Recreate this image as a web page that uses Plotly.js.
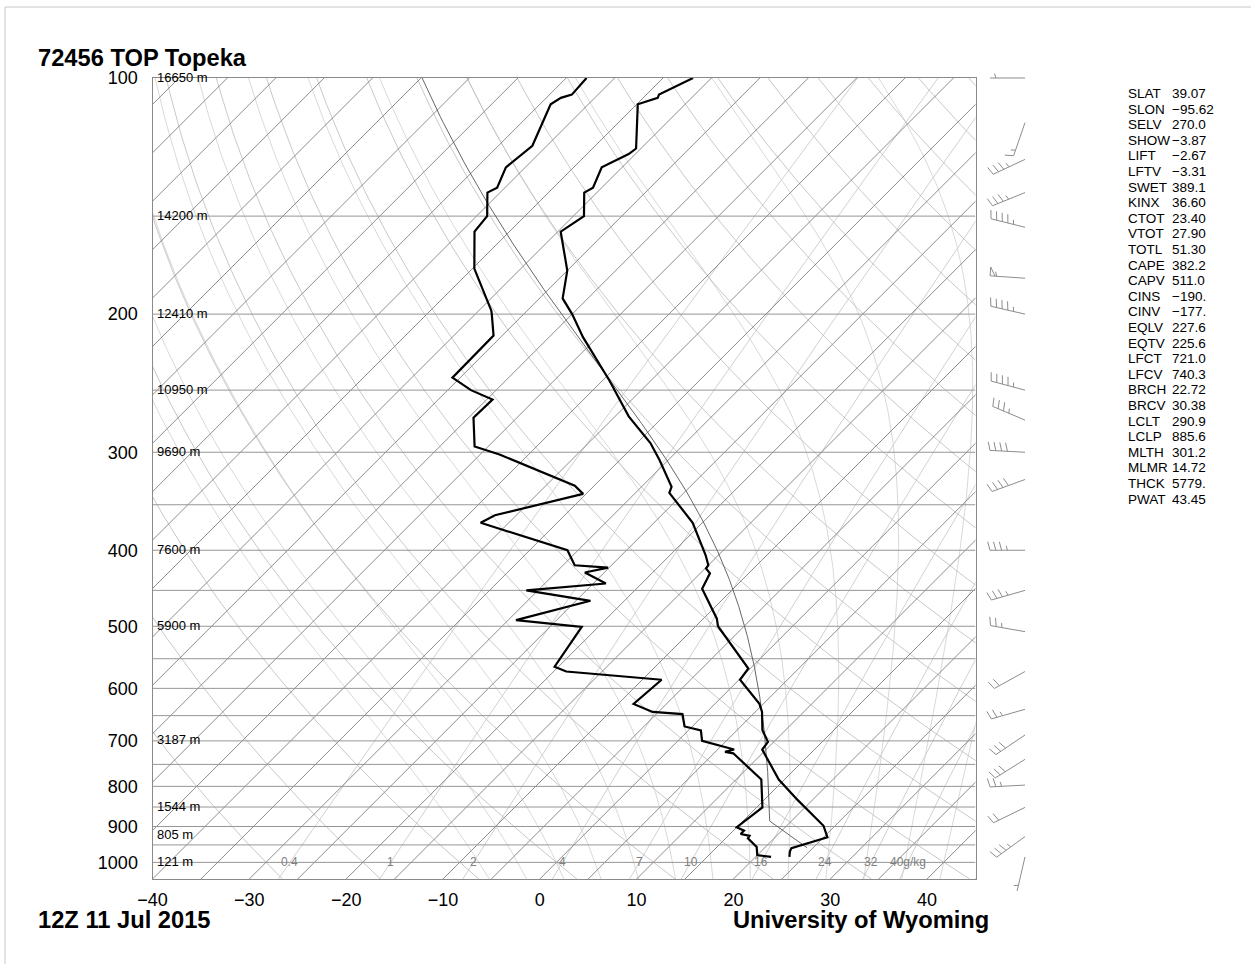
<!DOCTYPE html>
<html>
<head>
<meta charset="utf-8">
<script src="https://cdn.plot.ly/plotly-3.0.1.min.js"></script>
<style>html,body{margin:0;padding:0;background:#fff}</style>
</head>
<body>
<div id="chart" style="width:1251px;height:964px"></div>
<script>
// Skew-T log-p sounding: 72456 TOP Topeka, 12Z 11 Jul 2015

// ---- observed temperature profile (hPa, degC)
const tempP = [100,105,106,108,123,125,130,138,140,150,157,176,191,200,214,243,270,292,307,332,338,369,406,418,422,428,448,489,500,566,585,628,643,678,702,718,784,833,898,929,959,969,984];
const tempC = [-66.9,-68.7,-68.5,-69.9,-65.5,-65.7,-67.1,-65.9,-66.3,-63.9,-64.7,-60.0,-57.6,-55.0,-51.5,-44.3,-38.6,-33.6,-30.9,-26.9,-26.5,-21.0,-16.3,-15.0,-14.9,-14.0,-13.2,-8.6,-7.7,-0.2,0.1,4.6,5.7,7.6,9.4,9.6,14.4,18.5,23.8,25.4,22.8,23.0,23.5];

// ---- observed dewpoint profile (hPa, degC)
const dewP = [100,105,106,108,122,130,138,140,150,157,175,198,200,213,241,250,257,271,295,302,331,339,361,369,400,418,421,427,441,450,464,491,501,563,571,585,628,643,647,671,679,700,718,723,726,784,851,902,911,920,925,932,956,979,984];
const dewC = [-77.9,-77.7,-78.5,-78.9,-76.5,-77.0,-75.8,-76.3,-73.9,-73.6,-69.8,-63.7,-63.3,-60.9,-60.8,-57.6,-54.4,-54.5,-51.4,-48.0,-37.0,-35.3,-42.2,-42.9,-31.1,-28.8,-25.1,-27.0,-23.7,-31.2,-23.5,-29.2,-21.7,-20.4,-18.7,-8.0,-8.4,-5.6,-2.3,-0.8,1.3,2.5,6.7,6.0,7.0,12.6,15.6,15.0,16.1,16.1,17.2,17.3,19.1,20.0,21.6];

// ---- winds (hPa, direction deg, speed kt)
const windP   = [100,114,127,140,155,180,200,250,273,300,325,400,450,508,571,638,688,739,797,851,927,984];
const windDir = [270,199,245,248,284,274,283,285,293,273,250,270,254,280,241,254,236,238,267,244,234,193];
const windKt  = [5,15,35,35,45,55,45,45,35,40,40,35,35,25,20,25,30,30,25,20,35,5];

// ---- station indices
const statNames  = ['SLAT','SLON','SELV','SHOW','LIFT','LFTV','SWET','KINX','CTOT','VTOT','TOTL','CAPE','CAPV','CINS','CINV','EQLV','EQTV','LFCT','LFCV','BRCH','BRCV','LCLT','LCLP','MLTH','MLMR','THCK','PWAT'];
const statValues = ['39.07','\u221295.62','270.0','\u22123.87','\u22122.67','\u22123.31','389.1','36.60','23.40','27.90','51.30','382.2','511.0','\u2212190.','\u2212177.','227.6','225.6','721.0','740.3','22.72','30.38','290.9','885.6','301.2','14.72','5779.','43.45'];

// ---- height labels on mandatory levels
const heightP    = [100,150,200,250,300,400,500,700,850,925,1000];
const heightText = ['16650 m','14200 m','12410 m','10950 m','9690 m','7600 m','5900 m','3187 m','1544 m','805 m','121 m'];

// ---- mixing-ratio lines (g/kg)
const mixRatios = [0.4,1,2,4,7,10,16,24,32,40];
const mixLabels = ['0.4','1','2','4','7','10','16','24','32','40g/kg'];

// ---- axis ticks
const xTicks = [-40,-30,-20,-10,0,10,20,30,40];
const yTicks = [100,200,300,400,500,600,700,800,900,1000];

// ---------------- geometry ----------------
const W = 1251, H = 964;
const box = {l: 152.5, r: 975.5, t: 78, b: 879};
const P_BOT = 1050, P_TOP = 100, X_MIN = -40, X_MAX = 45;
const pxPerDeg = (box.r - box.l) / (X_MAX - X_MIN);
const pxPerDecade = (box.b - box.t) / Math.log10(P_BOT / P_TOP);
const SKEW = pxPerDecade / pxPerDeg;          // isotherms drawn at 45 degrees
const skewX = (T, p) => T + SKEW * Math.log10(P_BOT / p);

// ---------------- thermodynamics ----------------
const esat = Tc => 6.112 * Math.exp(17.67 * Tc / (Tc + 243.5));
function dewFromMix(w, p) {
  const e = w * p / (622 + w);
  const L = Math.log(e / 6.112);
  return 243.5 * L / (17.67 - L);
}
function moistLapse(p, Tk) {
  const Tc = Tk - 273.15, es = esat(Tc);
  const rs = 0.622 * es / (p - es);
  const Lv = 2.501e6, Rd = 287.04, Cp = 1005.7, eps = 0.622;
  return (1 / p) * (Rd * Tk + Lv * rs) / (Cp + (Lv * Lv * rs * eps) / (Rd * Tk * Tk));
}
function moistPath(p0, Tc0, p1) {
  const out = [[p0, Tc0]];
  const n = Math.max(1, Math.round(Math.abs(p1 - p0) / 2));
  const h = (p1 - p0) / n;
  let p = p0, T = Tc0 + 273.15;
  for (let i = 0; i < n; i++) {
    const k1 = moistLapse(p, T);
    const k2 = moistLapse(p + h / 2, T + h / 2 * k1);
    const k3 = moistLapse(p + h / 2, T + h / 2 * k2);
    const k4 = moistLapse(p + h, T + h * k3);
    T += h / 6 * (k1 + 2 * k2 + 2 * k3 + k4);
    p += h;
    out.push([p, T - 273.15]);
  }
  return out;
}
function logSpaced(pa, pb, n) {
  const a = Math.log(pa), b = Math.log(pb), r = [];
  for (let i = 0; i <= n; i++) r.push(Math.exp(a + (b - a) * i / n));
  return r;
}

// merge polylines into one trace separated by gaps
function joinLines(lines) {
  const x = [], y = [];
  lines.forEach(l => { l.forEach(pt => { x.push(pt[0]); y.push(pt[1]); }); x.push(null); y.push(null); });
  return {x, y};
}
function lineTrace(lines, color, width) {
  const j = joinLines(lines);
  return {type: 'scatter', mode: 'lines', x: j.x, y: j.y, line: {color, width}, hoverinfo: 'skip', connectgaps: false};
}

// ---------------- background lines ----------------
const isobars = [];
for (let p = 150; p <= 1000; p += 50) isobars.push([[X_MIN, p], [X_MAX, p]]);

const isotherms = [];
for (let T = -160; T <= 45; T += 5) isotherms.push([[skewX(T, P_BOT), P_BOT], [skewX(T, P_TOP), P_TOP]]);

const pGrid = logSpaced(P_BOT, P_TOP, 120);
const dryAd = [];
for (let th = -30; th <= 200; th += 10) {
  const thK = th + 273.15;
  dryAd.push(pGrid.map(p => { const T = thK * Math.pow(p / 1000, 0.2857) - 273.15; return [skewX(T, p), p]; }));
}

const moistAd = [];
for (let tw = -8; tw <= 40; tw += 4) {
  const up = moistPath(1000, tw, P_TOP);
  const dn = moistPath(1000, tw, P_BOT).reverse();
  moistAd.push(dn.concat(up.slice(1)).map(([p, T]) => [skewX(T, p), p]));
}

const mixLines = mixRatios.map(w => pGrid.map(p => [skewX(dewFromMix(w, p), p), p]));

// ---------------- parcel path (mixed-layer parcel) ----------------
const lclP = parseFloat(statValues[statNames.indexOf('LCLP')]);
const lclT = parseFloat(statValues[statNames.indexOf('LCLT')]) - 273.15;
const mlTheta = parseFloat(statValues[statNames.indexOf('MLTH')]);
const parcelDry = logSpaced(958, lclP, 20).map(p => { const T = mlTheta * Math.pow(p / 1000, 0.2857) - 273.15; return [skewX(T, p), p]; });
const parcelMoist = moistPath(lclP, lclT, P_TOP).map(([p, T]) => [skewX(T, p), p]);
const parcel = parcelDry.concat(parcelMoist);

// ---------------- wind barbs ----------------
const BARB_X = 1025, STAFF = 35, SPACING = 5.8, FULL = 8.8, HALF = 4.6, LEAN = 15 * Math.PI / 180;
const barbLines = [];
windP.forEach((p0, i) => {
  const d = windDir[i] * Math.PI / 180;
  const ux = Math.sin(d), uy = -Math.cos(d);     // toward the tip (screen coords, y down)
  const nx = Math.cos(d), ny = Math.sin(d);      // feather side
  const fx = nx * Math.cos(LEAN) + ux * Math.sin(LEAN), fy = ny * Math.cos(LEAN) + uy * Math.sin(LEAN);
  const toData = (sx, sy) => [BARB_X + sx, p0 * Math.pow(10, sy / pxPerDecade)];
  barbLines.push([toData(0, 0), toData(ux * STAFF, uy * STAFF)]);
  let spd = Math.round(windKt[i] / 5) * 5;
  let s = STAFF;
  const flags = Math.floor(spd / 50); spd -= flags * 50;
  const fulls = Math.floor(spd / 10); spd -= fulls * 10;
  const halfs = spd >= 5 ? 1 : 0;
  for (let k = 0; k < flags; k++) {
    const ax = ux * s, ay = uy * s, bx = ux * (s - 5), by = uy * (s - 5);
    barbLines.push([toData(ax, ay), toData(ax + nx * FULL, ay + ny * FULL), toData(bx, by)]);
    s -= 5 + 1.5;
  }
  for (let k = 0; k < fulls; k++) {
    const ax = ux * s, ay = uy * s;
    barbLines.push([toData(ax, ay), toData(ax + fx * FULL, ay + fy * FULL)]);
    s -= SPACING;
  }
  if (halfs) {
    if (flags + fulls === 0) s -= SPACING;
    const ax = ux * s, ay = uy * s;
    barbLines.push([toData(ax, ay), toData(ax + fx * HALF, ay + fy * HALF)]);
  }
});

// ---------------- traces ----------------
const traces = [
  lineTrace(mixLines, '#c4c4c4', 0.8),
  lineTrace(moistAd, '#cfcfcf', 0.8),
  lineTrace(dryAd, '#bababa', 0.8),
  lineTrace(isotherms, '#7f7f7f', 0.9),
  lineTrace(isobars, '#969696', 1),
  lineTrace([parcel], '#555555', 0.9),
  {type: 'scatter', mode: 'lines', x: tempC.map((T, i) => skewX(T, tempP[i])), y: tempP, line: {color: '#000', width: 2.2}, hoverinfo: 'skip'},
  {type: 'scatter', mode: 'lines', x: dewC.map((T, i) => skewX(T, dewP[i])), y: dewP, line: {color: '#000', width: 2.2}, hoverinfo: 'skip'},
  Object.assign(lineTrace(barbLines, '#8c8c8c', 1), {xaxis: 'x2', yaxis: 'y2'})
];

// ---------------- annotations ----------------
const FONT = 'Liberation Sans, Arial, Helvetica, sans-serif';
const ann = [];
const paperX = px => px / W, paperY = py => 1 - py / H;
const big = {family: FONT, size: 23.7, color: '#000'};
ann.push({xref: 'paper', yref: 'paper', x: paperX(36), y: paperY(58), xanchor: 'left', yanchor: 'middle', text: '<b>72456 TOP Topeka</b>', showarrow: false, font: big});
ann.push({xref: 'paper', yref: 'paper', x: paperX(36), y: paperY(920), xanchor: 'left', yanchor: 'middle', text: '<b>12Z 11 Jul 2015</b>', showarrow: false, font: big});
ann.push({xref: 'paper', yref: 'paper', x: paperX(991), y: paperY(920), xanchor: 'right', yanchor: 'middle', text: '<b>University of Wyoming</b>', showarrow: false, font: big});
heightP.forEach((p, i) => ann.push({xref: 'x', yref: 'y', x: X_MIN, y: Math.log10(p), xanchor: 'left', yanchor: 'middle', xshift: 2, yshift: 1, text: heightText[i], showarrow: false, font: {family: FONT, size: 13, color: '#000'}}));
mixRatios.forEach((w, i) => ann.push({xref: 'x', yref: 'y', x: skewX(dewFromMix(w, 1000), 1000), y: Math.log10(1000), xanchor: 'center', yanchor: 'middle', text: mixLabels[i], showarrow: false, font: {family: FONT, size: 12, color: '#808080'}}));
statNames.forEach((n, i) => {
  const py = 93.5 + i * 15.6;
  ann.push({xref: 'paper', yref: 'paper', x: paperX(1126), y: paperY(py), xanchor: 'left', yanchor: 'middle', text: n, showarrow: false, font: {family: FONT, size: 13.5, color: '#000'}});
  ann.push({xref: 'paper', yref: 'paper', x: paperX(1170), y: paperY(py), xanchor: 'left', yanchor: 'middle', text: statValues[i], showarrow: false, font: {family: FONT, size: 13.5, color: '#000'}});
});

// barb panel shares the pressure scale of the main plot
const barbTopPx = 40, barbBotPx = 930;
const layout = {
  width: W, height: H, margin: {l: 0, r: 0, t: 0, b: 0},
  paper_bgcolor: '#fff', plot_bgcolor: 'rgba(0,0,0,0)', showlegend: false, hovermode: false,
  font: {family: FONT, color: '#000'},
  xaxis: {domain: [box.l / W, box.r / W], range: [X_MIN, X_MAX], showgrid: false, zeroline: false,
          showline: true, mirror: true, linecolor: '#8a8a8a', linewidth: 1,
          tickmode: 'array', tickvals: xTicks, ticktext: xTicks.map(v => v < 0 ? '\u2212' + Math.abs(v) : String(v)),
          ticks: 'outside', ticklen: 4, tickcolor: 'rgba(0,0,0,0)', tickfont: {family: FONT, size: 18, color: '#000'}},
  yaxis: {domain: [1 - box.b / H, 1 - box.t / H], type: 'log', range: [Math.log10(P_BOT), Math.log10(P_TOP)],
          showgrid: false, zeroline: false, showline: true, mirror: true, linecolor: '#8a8a8a', linewidth: 1,
          tickmode: 'array', tickvals: yTicks, ticktext: yTicks.map(String),
          ticks: 'outside', ticklen: 10, tickcolor: 'rgba(0,0,0,0)', tickfont: {family: FONT, size: 18, color: '#000'}},
  xaxis2: {domain: [980 / W, 1040 / W], range: [980, 1040], visible: false, anchor: 'y2'},
  yaxis2: {domain: [1 - barbBotPx / H, 1 - barbTopPx / H], type: 'log', visible: false, anchor: 'x2',
           range: [Math.log10(P_BOT) + (barbBotPx - box.b) / pxPerDecade, Math.log10(P_TOP) - (box.t - barbTopPx) / pxPerDecade]},
  annotations: ann,
  shapes: [
    {type: 'line', xref: 'paper', yref: 'paper', x0: paperX(5), x1: 1, y0: paperY(7), y1: paperY(7), line: {color: '#c8c8c8', width: 1}},
    {type: 'line', xref: 'paper', yref: 'paper', x0: paperX(5), x1: paperX(5), y0: paperY(7), y1: 0, line: {color: '#c8c8c8', width: 1}}
  ]
};

Plotly.newPlot('chart', traces, layout, {staticPlot: true, displayModeBar: false});
</script>
</body>
</html>
